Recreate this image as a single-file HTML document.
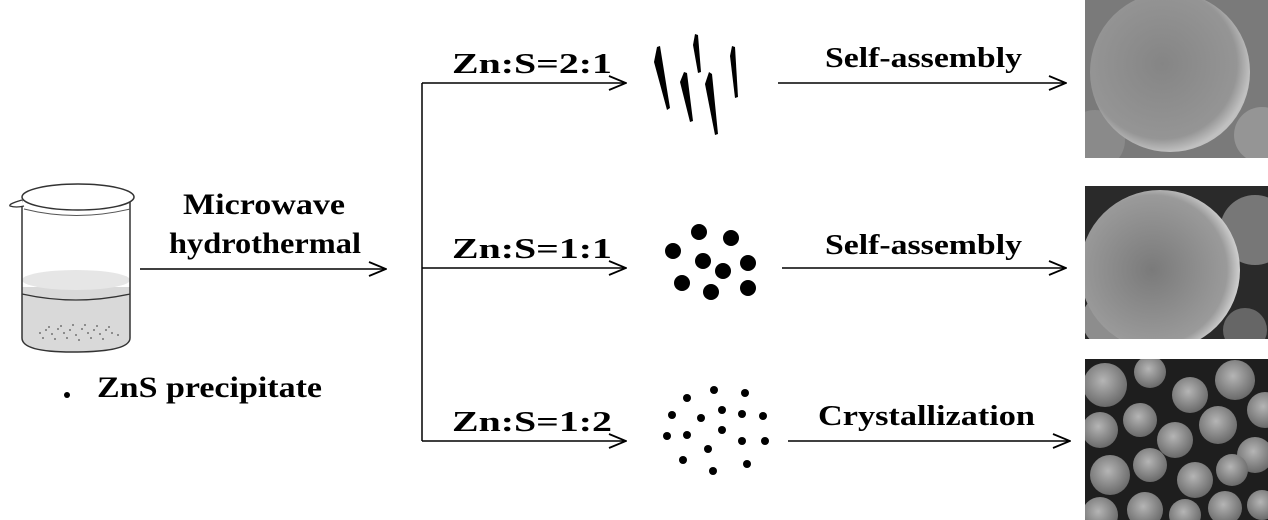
<!DOCTYPE html>
<html><head><style>
body{margin:0;background:#fff;width:1268px;height:520px;overflow:hidden}
svg{display:block}
text{font-family:"Liberation Serif",serif;font-weight:bold;fill:#000}
</style></head><body>
<svg width="1268" height="520" viewBox="0 0 1268 520">
<defs>
<marker id="a" markerWidth="20" markerHeight="16" refX="19" refY="8" orient="auto" markerUnits="userSpaceOnUse">
<path d="M2,1 L19,8 L2,15" fill="none" stroke="#000" stroke-width="1.8"/>
</marker>
<radialGradient id="s1" cx="0.45" cy="0.45" r="0.55"><stop offset="0" stop-color="#858585"/><stop offset="0.85" stop-color="#959595"/><stop offset="1" stop-color="#c0c0c0"/></radialGradient>
<radialGradient id="s2" cx="0.45" cy="0.5" r="0.55"><stop offset="0" stop-color="#7a7a7a"/><stop offset="0.85" stop-color="#9a9a9a"/><stop offset="1" stop-color="#d0d0d0"/></radialGradient>
<radialGradient id="b" cx="0.45" cy="0.4" r="0.6"><stop offset="0" stop-color="#b5b5b5"/><stop offset="1" stop-color="#6a6a6a"/></radialGradient>
<clipPath id="c3"><rect x="1085" y="359" width="183" height="161"/></clipPath>
<clipPath id="c1"><rect x="1085" y="0" width="183" height="158"/></clipPath>
<clipPath id="c2"><rect x="1085" y="186" width="183" height="153"/></clipPath>
</defs>

<!-- beaker -->
<path d="M22,287 L22,338 Q22,352 72,352 Q130,352 130,338 L130,287 Z" fill="#d9d9d9"/>
<ellipse cx="76" cy="280" rx="54" ry="10" fill="#e6e6e6"/>
<path d="M22,294 Q76,306 130,294" fill="none" stroke="#333" stroke-width="1.3"/>
<path d="M22,200 L22,338 Q22,352 72,352 Q130,352 130,338 L130,200" fill="none" stroke="#333" stroke-width="1.5"/>
<ellipse cx="78" cy="197" rx="56" ry="13" fill="#fff" stroke="#333" stroke-width="1.5"/>
<path d="M22,200 Q8,204 10,206 Q16,208 24,206" fill="#fff" stroke="#333" stroke-width="1.3"/>
<path d="M24,209 Q76,222 130,209" fill="none" stroke="#555" stroke-width="1"/>
<g fill="#555">
<circle cx="40" cy="333" r="0.9"/><circle cx="46" cy="330" r="0.9"/><circle cx="52" cy="334" r="0.9"/><circle cx="58" cy="329" r="0.9"/><circle cx="64" cy="333" r="0.9"/><circle cx="70" cy="330" r="0.9"/><circle cx="76" cy="335" r="0.9"/><circle cx="82" cy="329" r="0.9"/><circle cx="88" cy="333" r="0.9"/><circle cx="94" cy="330" r="0.9"/><circle cx="100" cy="334" r="0.9"/><circle cx="106" cy="330" r="0.9"/><circle cx="112" cy="333" r="0.9"/><circle cx="118" cy="335" r="0.9"/>
<circle cx="43" cy="338" r="0.9"/><circle cx="55" cy="339" r="0.9"/><circle cx="67" cy="338" r="0.9"/><circle cx="79" cy="340" r="0.9"/><circle cx="91" cy="338" r="0.9"/><circle cx="103" cy="339" r="0.9"/><circle cx="61" cy="326" r="0.9"/><circle cx="73" cy="325" r="0.9"/><circle cx="85" cy="325" r="0.9"/><circle cx="97" cy="326" r="0.9"/><circle cx="49" cy="327" r="0.9"/><circle cx="109" cy="327" r="0.9"/>
</g>
<circle cx="67" cy="395" r="3" fill="#000"/>
<text x="97" y="397" font-size="30" textLength="225" lengthAdjust="spacingAndGlyphs">ZnS precipitate</text>

<!-- main arrow -->
<text x="183" y="214" font-size="30" textLength="162" lengthAdjust="spacingAndGlyphs">Microwave</text>
<text x="169" y="253" font-size="30" textLength="192" lengthAdjust="spacingAndGlyphs">hydrothermal</text>
<line x1="140" y1="269" x2="386" y2="269" stroke="#000" stroke-width="1.5" marker-end="url(#a)"/>

<!-- branches -->
<line x1="422" y1="83" x2="422" y2="441" stroke="#000" stroke-width="1.5"/>
<line x1="422" y1="83" x2="626" y2="83" stroke="#000" stroke-width="1.5" marker-end="url(#a)"/>
<line x1="422" y1="268" x2="626" y2="268" stroke="#000" stroke-width="1.5" marker-end="url(#a)"/>
<line x1="422" y1="441" x2="626" y2="441" stroke="#000" stroke-width="1.5" marker-end="url(#a)"/>
<text x="452" y="73" font-size="29" textLength="160" lengthAdjust="spacingAndGlyphs">Zn:S=2:1</text>
<text x="452" y="258" font-size="29" textLength="160" lengthAdjust="spacingAndGlyphs">Zn:S=1:1</text>
<text x="452" y="431" font-size="29" textLength="160" lengthAdjust="spacingAndGlyphs">Zn:S=1:2</text>

<!-- spikes -->
<g fill="#000">
<path d="M657,47 L660,46 L670,108 L667,110 L654,62 Z"/>
<path d="M695,34 L698,35 L701,72 L698,73 L693,45 Z"/>
<path d="M732,46 L735,47 L738,97 L735,98 L730,56 Z"/>
<path d="M684,72 L687,73 L693,121 L690,122 L680,82 Z"/>
<path d="M709,72 L712,74 L718,134 L715,135 L705,84 Z"/>
</g>

<!-- dots 1:1 -->
<g fill="#000">
<circle cx="673" cy="251" r="8"/><circle cx="699" cy="232" r="8"/><circle cx="731" cy="238" r="8"/><circle cx="703" cy="261" r="8"/><circle cx="748" cy="263" r="8"/><circle cx="723" cy="271" r="8"/><circle cx="682" cy="283" r="8"/><circle cx="711" cy="292" r="8"/><circle cx="748" cy="288" r="8"/>
</g>
<!-- dots 1:2 -->
<g fill="#000">
<circle cx="687" cy="398" r="4"/><circle cx="714" cy="390" r="4"/><circle cx="745" cy="393" r="4"/><circle cx="672" cy="415" r="4"/><circle cx="701" cy="418" r="4"/><circle cx="722" cy="410" r="4"/><circle cx="742" cy="414" r="4"/><circle cx="763" cy="416" r="4"/><circle cx="667" cy="436" r="4"/><circle cx="687" cy="435" r="4"/><circle cx="722" cy="430" r="4"/><circle cx="742" cy="441" r="4"/><circle cx="765" cy="441" r="4"/><circle cx="708" cy="449" r="4"/><circle cx="683" cy="460" r="4"/><circle cx="747" cy="464" r="4"/><circle cx="713" cy="471" r="4"/>
</g>

<!-- right arrows -->
<line x1="778" y1="83" x2="1066" y2="83" stroke="#000" stroke-width="1.5" marker-end="url(#a)"/>
<line x1="782" y1="268" x2="1066" y2="268" stroke="#000" stroke-width="1.5" marker-end="url(#a)"/>
<line x1="788" y1="441" x2="1070" y2="441" stroke="#000" stroke-width="1.5" marker-end="url(#a)"/>
<text x="825" y="67" font-size="29" textLength="197" lengthAdjust="spacingAndGlyphs">Self-assembly</text>
<text x="825" y="254" font-size="29" textLength="197" lengthAdjust="spacingAndGlyphs">Self-assembly</text>
<text x="818" y="425" font-size="29" textLength="217" lengthAdjust="spacingAndGlyphs">Crystallization</text>

<!-- SEM 1 -->
<g clip-path="url(#c1)">
<rect x="1085" y="0" width="183" height="158" fill="#7a7a7a"/>
<circle cx="1095" cy="140" r="30" fill="#8a8a8a"/>
<circle cx="1170" cy="72" r="80" fill="url(#s1)"/>
<circle cx="1262" cy="135" r="28" fill="#959595"/>
</g>
<!-- SEM 2 -->
<g clip-path="url(#c2)">
<rect x="1085" y="186" width="183" height="153" fill="#2a2a2a"/>
<circle cx="1255" cy="230" r="35" fill="#777"/>
<circle cx="1110" cy="320" r="28" fill="#8d8d8d"/>
<circle cx="1160" cy="270" r="80" fill="url(#s2)"/>
<circle cx="1245" cy="330" r="22" fill="#666"/>
</g>
<!-- SEM 3 -->
<rect x="1085" y="359" width="183" height="161" fill="#1e1e1e"/>
<g clip-path="url(#c3)" fill="url(#b)">
<circle cx="1105" cy="385" r="22"/><circle cx="1150" cy="372" r="16"/><circle cx="1190" cy="395" r="18"/><circle cx="1235" cy="380" r="20"/><circle cx="1265" cy="410" r="18"/>
<circle cx="1100" cy="430" r="18"/><circle cx="1140" cy="420" r="17"/><circle cx="1175" cy="440" r="18"/><circle cx="1218" cy="425" r="19"/><circle cx="1255" cy="455" r="18"/>
<circle cx="1110" cy="475" r="20"/><circle cx="1150" cy="465" r="17"/><circle cx="1195" cy="480" r="18"/><circle cx="1232" cy="470" r="16"/>
<circle cx="1100" cy="515" r="18"/><circle cx="1145" cy="510" r="18"/><circle cx="1185" cy="515" r="16"/><circle cx="1225" cy="508" r="17"/><circle cx="1262" cy="505" r="15"/>
</g>
</svg>
</body></html>
